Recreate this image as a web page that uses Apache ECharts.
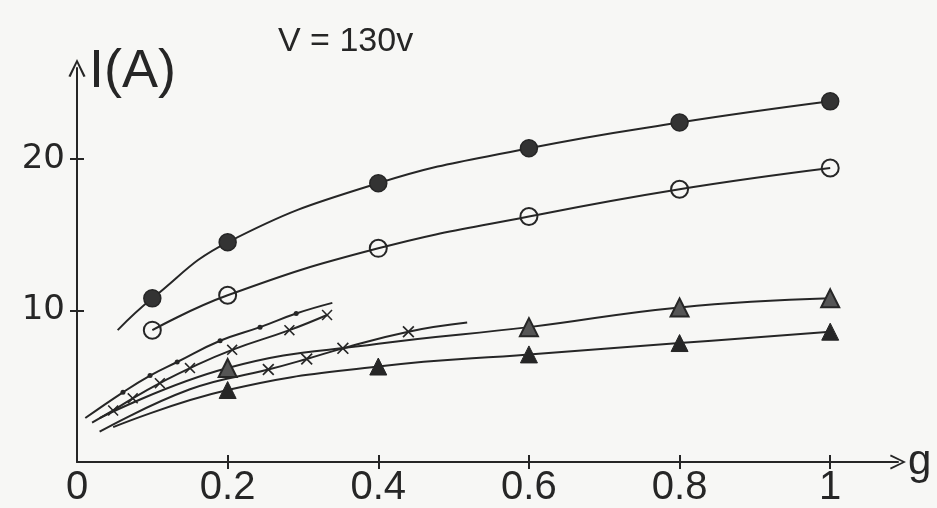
<!DOCTYPE html>
<html>
<head>
<meta charset="utf-8">
<script src="https://cdn.jsdelivr.net/npm/echarts@6/dist/echarts.min.js"></script>
<style>html,body{margin:0;padding:0;background:#f7f7f5}#c{width:937px;height:508px}</style>
</head>
<body>
<div id="c"></div>
<script>
// x tick labels and y tick values
const xTicks = [0, 0.2, 0.4, 0.6, 0.8, 1];
const yTicks = [10, 20];
// Series data: [g, I]; entries with a third value 0 are line ends without a marker
const filledCircles = [[0.054, 8.7, 0], [0.1, 10.8], [0.2, 14.5], [0.4, 18.4], [0.6, 20.7], [0.8, 22.4], [1.0, 23.8]];
const openCircles   = [[0.1, 8.7], [0.2, 11.0], [0.4, 14.1], [0.6, 16.2], [0.8, 18.0], [1.0, 19.4]];
const upperTriangles = [[0.03, 2.9, 0], [0.2, 6.2], [0.4, 7.8, 0], [0.6, 8.9], [0.8, 10.2], [1.0, 10.8]];
const lowerTriangles = [[0.048, 2.3, 0], [0.2, 4.75], [0.4, 6.3], [0.6, 7.1], [0.8, 7.85], [1.0, 8.6]];
const smallDots = [[0.011, 2.9, 0], [0.061, 4.6], [0.097, 5.7], [0.133, 6.6], [0.19, 8.0], [0.243, 8.9], [0.291, 9.8], [0.339, 10.5, 0]];
const crossesShort = [[0.02, 2.6, 0], [0.048, 3.4], [0.074, 4.2], [0.11, 5.2], [0.15, 6.2], [0.206, 7.4], [0.282, 8.7], [0.332, 9.7]];
const crossesLong = [[0.03, 2.0, 0], [0.15, 4.8, 0], [0.254, 6.1], [0.305, 6.8], [0.353, 7.5], [0.44, 8.6], [0.518, 9.2, 0]];

const INK = '#262626';
const crossPath = 'path://M0,2 L2,0 L10,8 L18,0 L20,2 L12,10 L20,18 L18,20 L10,12 L2,20 L0,18 L8,10 Z';
const chevron = 'path://M0,20 L10,0 L20,20 L17.5,21 L10,5 L2.5,21 Z';

function toData(arr) {
  return arr.map(p => p.length > 2 && p[2] === 0 ? {value: [p[0], p[1]], symbol: 'none'} : [p[0], p[1]]);
}
function mk(name, arr, symbol, size, itemStyle) {
  return {
    name, type: 'line', smooth: 0.45, data: toData(arr), symbol, symbolSize: size,
    showAllSymbol: true, lineStyle: {color: INK, width: 2}, itemStyle, z: 3
  };
}

const chart = echarts.init(document.getElementById('c'));
const font = 'Liberation Sans, Arial, sans-serif';
chart.setOption({
  backgroundColor: '#f7f7f5',
  animation: false,
  title: {text: 'V = 130v', left: 273, top: 20, textStyle: {fontFamily: font, fontSize: 34, fontWeight: 'normal', color: INK}},
  grid: {left: 77, right: 39, top: 68, bottom: 46},
  xAxis: [{
    type: 'value', min: 0, max: 1.09, interval: 0.2,
    name: 'g', nameLocation: 'end', nameGap: 10,
    nameTextStyle: {fontFamily: font, fontSize: 42, color: INK, verticalAlign: 'middle', padding: [0, 0, 14, 0]},
    axisLine: {lineStyle: {color: INK, width: 2}, symbol: ['none', chevron], symbolSize: [18, 16]},
    axisTick: {show: true, length: 7, lineStyle: {color: INK, width: 2}, customValues: [0.2, 0.4, 0.6, 0.8, 1]},
    axisLabel: {customValues: xTicks, fontFamily: font, fontSize: 40, color: INK, margin: 6,
      formatter: v => (v === 0 ? '0' : v === 1 ? '1' : String(+v.toFixed(1)))},
    splitLine: {show: false}
  }, {
    type: 'value', min: 0, max: 1.09, position: 'bottom',
    axisLine: {show: false}, axisLabel: {show: false}, splitLine: {show: false},
    axisTick: {show: true, inside: true, length: 7, lineStyle: {color: INK, width: 2}, customValues: [0.2, 0.4, 0.6, 0.8, 1]}
  }],
  yAxis: [{
    type: 'value', min: 0, max: 26, interval: 10,
    name: 'I(A)', nameLocation: 'end', nameGap: -4,
    nameTextStyle: {fontFamily: font, fontSize: 54, color: INK, align: 'left', verticalAlign: 'middle', padding: [0, 0, 0, 12]},
    axisLine: {lineStyle: {color: INK, width: 2}, symbol: ['none', chevron], symbolSize: [18, 18]},
    axisTick: {show: true, length: 7, lineStyle: {color: INK, width: 2}, customValues: yTicks},
    axisLabel: {customValues: yTicks, fontFamily: 'DejaVu Sans, sans-serif', fontSize: 34, color: INK, margin: 12},
    splitLine: {show: false}
  }, {
    type: 'value', min: 0, max: 26, position: 'left',
    axisLine: {show: false}, axisLabel: {show: false}, splitLine: {show: false},
    axisTick: {show: true, inside: true, length: 7, lineStyle: {color: INK, width: 2}, customValues: yTicks}
  }],
  series: [
    mk('filled circles', filledCircles, 'circle', 17, {color: '#333', borderColor: INK, borderWidth: 1.5}),
    mk('open circles', openCircles, 'circle', 17, {color: 'rgba(0,0,0,0)', borderColor: INK, borderWidth: 2}),
    mk('upper triangles', upperTriangles, 'triangle', 18, {color: '#555', borderColor: INK, borderWidth: 2}),
    mk('lower triangles', lowerTriangles, 'triangle', 17, {color: INK, borderColor: INK, borderWidth: 1}),
    mk('dots', smallDots, 'circle', 5, {color: INK}),
    mk('crosses short', crossesShort, crossPath, 11, {color: INK}),
    mk('crosses long', crossesLong, crossPath, 12, {color: INK})
  ]
});
</script>
</body>
</html>
